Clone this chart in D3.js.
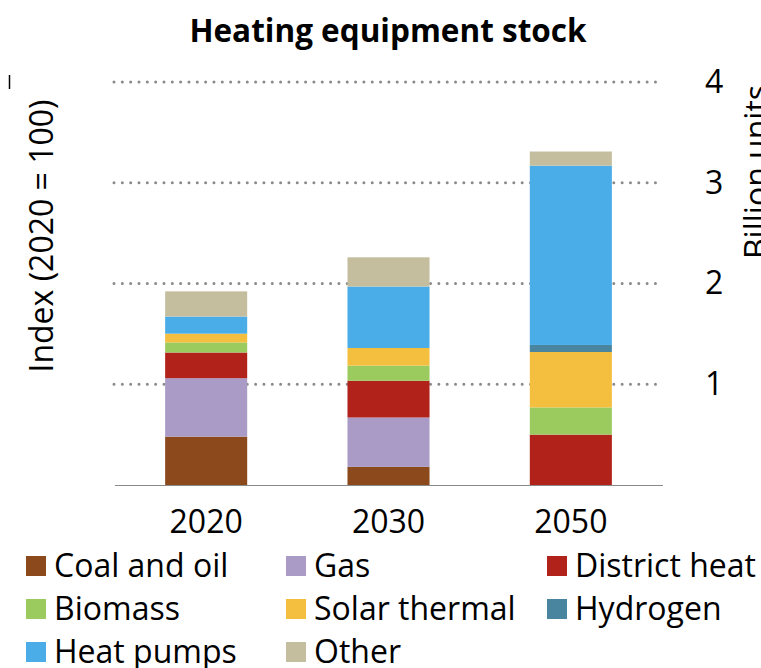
<!DOCTYPE html>
<html>
<head>
<meta charset="utf-8">
<script src="https://cdn.jsdelivr.net/npm/d3@7"></script>
<style>
  body { margin: 0; background: #fff; }
  text { font-family: "Open Sans", sans-serif; fill: #000; }
</style>
</head>
<body>
<div id="chart"></div>
<script>
const width = 761, height = 668;

// data (billion units)
const years = ["2020", "2030", "2050"];
const seriesNames = ["Coal and oil", "Gas", "District heat", "Biomass", "Solar thermal", "Hydrogen", "Heat pumps", "Other"];
const coalOil      = [0.48, 0.18, 0];
const gas          = [0.58, 0.49, 0];
const districtHeat = [0.255, 0.365, 0.50];
const biomass      = [0.10, 0.15, 0.27];
const solarThermal = [0.087, 0.175, 0.55];
const hydrogen     = [0, 0, 0.07];
const heatPumps    = [0.17, 0.61, 1.78];
const other        = [0.25, 0.29, 0.14];
const rightTicks = [1, 2, 3, 4];

const colors = ["#8C4A1C", "#A99BC6", "#B0221A", "#9BCB5F", "#F4BF3F", "#4A85A0", "#4AADE8", "#C5BE9E"];

const seriesValues = [coalOil, gas, districtHeat, biomass, solarThermal, hydrogen, heatPumps, other];

// build table for d3.stack
const table = years.map(function(y, i) {
	let row = {year: y};
	seriesNames.forEach(function(s, j) { row[s] = seriesValues[j][i]; });
	return row;
});

const svg = d3.select("#chart")
	.append("svg")
	.attr("width", width)
	.attr("height", height);

const x = d3.scaleBand()
	.domain(years)
	.range([115, 662])
	.paddingInner(0.55)
	.paddingOuter(0.275);

const y = d3.scaleLinear()
	.domain([0, 4])
	.range([485, 82]);

const color = d3.scaleOrdinal().domain(seriesNames).range(colors);

// title
svg.append("text")
	.attr("x", 388)
	.attr("y", 42)
	.attr("text-anchor", "middle")
	.attr("font-size", 31.5)
	.attr("font-weight", "bold")
	.text("Heating equipment stock");

// dotted gridlines
svg.append("g")
	.selectAll("line")
	.data(rightTicks)
	.join("line")
	.attr("x1", 114)
	.attr("x2", 663)
	.attr("y1", d => y(d))
	.attr("y2", d => y(d))
	.attr("stroke", "#8a8a8a")
	.attr("stroke-width", 3)
	.attr("stroke-linecap", "round")
	.attr("stroke-dasharray", "0 8.33");

// stacked bars
const stacked = d3.stack().keys(seriesNames)(table);

svg.append("g")
	.selectAll("g")
	.data(stacked)
	.join("g")
	.attr("fill", d => color(d.key))
	.selectAll("rect")
	.data(d => d)
	.join("rect")
	.attr("x", d => x(d.data.year))
	.attr("width", x.bandwidth())
	.attr("y", d => y(d[1]))
	.attr("height", d => y(d[0]) - y(d[1]));

// baseline
svg.append("line")
	.attr("x1", 115)
	.attr("x2", 663)
	.attr("y1", y(0) + 0.5)
	.attr("y2", y(0) + 0.5)
	.attr("stroke", "#8a8a8a")
	.attr("stroke-width", 1);

// x axis labels
const xAxis = svg.append("g")
	.attr("transform", `translate(0, ${y(0)})`)
	.call(d3.axisBottom(x).tickSize(0).tickPadding(25));
xAxis.select(".domain").remove();
xAxis.selectAll("text")
	.attr("font-size", 32)
	.attr("fill", "#000")
	.style("font-family", "'Open Sans', sans-serif");

// right axis labels
const yAxis = svg.append("g")
	.attr("transform", "translate(705, 0)")
	.call(d3.axisRight(y).tickValues(rightTicks).tickFormat(d3.format("d")).tickSize(0).tickPadding(0));
yAxis.select(".domain").remove();
yAxis.selectAll("text")
	.attr("font-size", 32)
	.attr("fill", "#000")
	.style("font-family", "'Open Sans', sans-serif");

// axis titles
svg.append("text")
	.attr("transform", "translate(53, 236) rotate(-90)")
	.attr("text-anchor", "middle")
	.attr("font-size", 32)
	.text("Index (2020 = 100)");

svg.append("text")
	.attr("transform", "translate(768, 172) rotate(-90)")
	.attr("text-anchor", "middle")
	.attr("font-size", 32)
	.text("Billion units");

// stray mark top-left
svg.append("line")
	.attr("x1", 9.5).attr("x2", 9.5)
	.attr("y1", 75).attr("y2", 89)
	.attr("stroke", "#000")
	.attr("stroke-width", 1.5);

// legend
const legendCols = [26, 286, 547];
const legendRows = [566, 609, 652];
const legend = svg.append("g")
	.selectAll("g")
	.data(seriesNames)
	.join("g")
	.attr("transform", (d, i) => `translate(${legendCols[i % 3]}, ${legendRows[Math.floor(i / 3)]})`);

legend.append("rect")
	.attr("x", 0)
	.attr("y", -10)
	.attr("width", 20)
	.attr("height", 20)
	.attr("fill", d => color(d));

legend.append("text")
	.attr("x", 28)
	.attr("y", 11)
	.attr("font-size", 32)
	.text(d => d);
</script>
</body>
</html>
